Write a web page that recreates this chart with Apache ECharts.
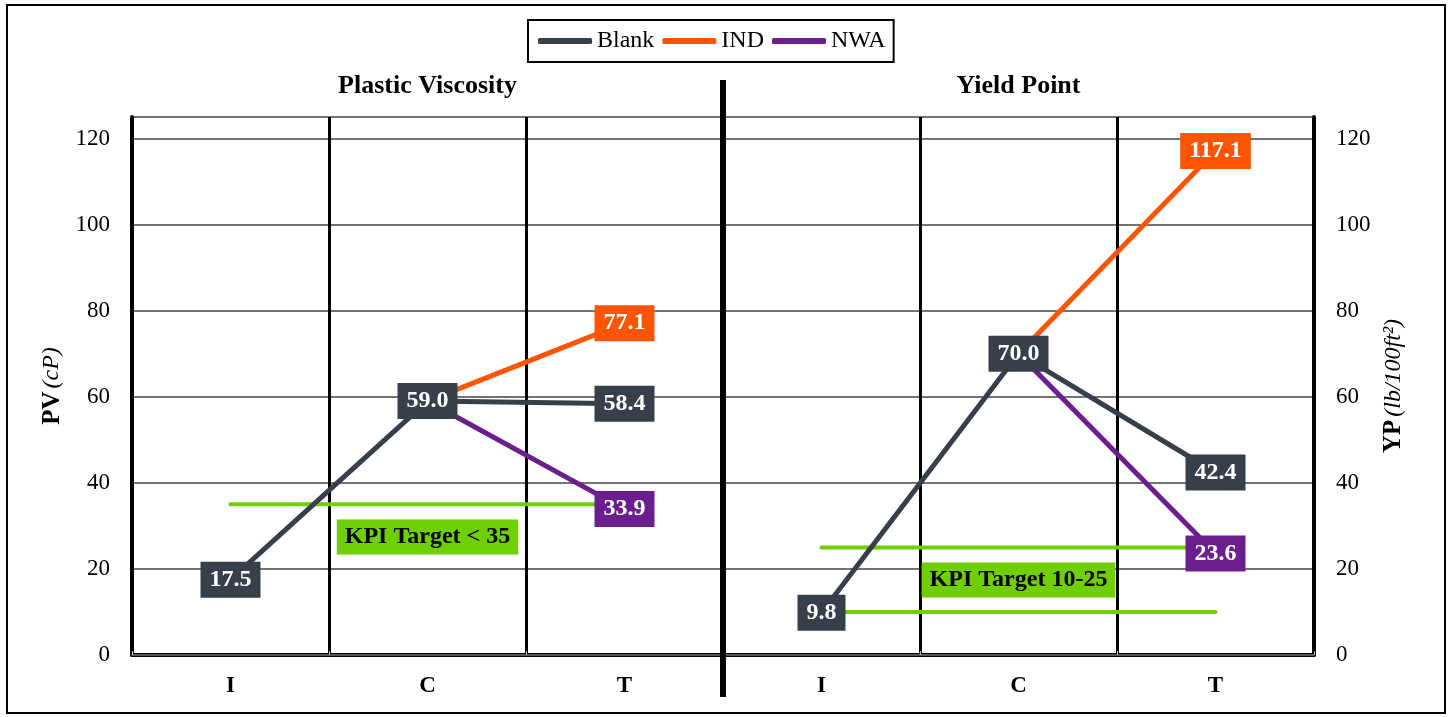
<!DOCTYPE html>
<html>
<head>
<meta charset="utf-8">
<script src="https://cdn.jsdelivr.net/npm/echarts@6/dist/echarts.min.js"></script>
<style>
  html, body { margin: 0; padding: 0; background: #fff; }
  #chart { width: 1452px; height: 717px; }
</style>
</head>
<body>
<div id="chart"></div>
<script>
// Test stages for each property panel (left: PV, right: YP)
const categories = ['I', 'C', 'T', 'I', 'C', 'T'];
const panelTitles = ['Plastic Viscosity', 'Yield Point'];

// Blank fluid: left panel PV, right panel YP
const blankPV = [17.5, 59.0, 58.4, '-', '-', '-'];
const blankYP = ['-', '-', '-', 9.8, 70.0, 42.4];
// Additive fluids branch from stage C
const indValues = ['-', 59.0, 77.1, '-', 70.0, 117.1];
const nwaValues = ['-', 59.0, 33.9, '-', 70.0, 23.6];

// KPI targets
const kpiPV = [35, 35, 35, '-', '-', '-'];
const kpiYPHigh = ['-', '-', '-', 25, 25, 25];
const kpiYPLow = ['-', '-', '-', 10, 10, 10];
const kpiTexts = ['KPI Target < 35', 'KPI Target 10-25'];

const COLORS = { blank: '#37404a', ind: '#ff5500', nwa: '#6b1f8f', kpi: '#6fcf00' };
const SERIF = "'Liberation Serif', 'Times New Roman', serif";

// wrap values, giving a value box to the chosen points
function labelled(values, idx, bg) {
  return values.map((v, i) => {
    if (v === '-' || (idx && idx.indexOf(i) < 0)) return v;
    return {
      value: v,
      label: {
        show: true, position: 'inside',
        formatter: p => Number(p.value).toFixed(1),
        color: '#fff', fontFamily: SERIF, fontWeight: 'bold', fontSize: 24,
        backgroundColor: bg, padding: [7, 9, 5, 9]
      }
    };
  });
}

function lineSeries(name, data, color, z) {
  return {
    name, type: 'line', data, z,
    symbol: 'rect', symbolSize: 1, showSymbol: true,
    itemStyle: { color },
    lineStyle: { color, width: 5 },
    emphasis: { disabled: true },
    animation: false
  };
}

function kpiSeries(data, mark) {
  const s = {
    name: 'KPI', type: 'line', data, z: 1, silent: true,
    symbol: 'none',
    lineStyle: { color: COLORS.kpi, width: 4, cap: 'round' },
    itemStyle: { color: COLORS.kpi },
    animation: false
  };
  if (mark) {
    s.markPoint = {
      symbol: 'rect', symbolSize: 0, silent: true, animation: false,
      data: [{ coord: mark.coord }],
      label: {
        show: true, position: 'inside', formatter: mark.text,
        color: '#000', fontFamily: SERIF, fontWeight: 'bold', fontSize: 24,
        backgroundColor: COLORS.kpi, padding: [7, 8, 4, 8]
      }
    };
  }
  return s;
}

const chart = echarts.init(document.getElementById('chart'), null, { renderer: 'canvas' });

const yAxisBase = {
  type: 'value', min: 0, max: 125, interval: 20,
  axisLabel: { color: '#000', fontFamily: SERIF, fontSize: 23, margin: 22, showMaxLabel: false },
  axisTick: { show: false },
  nameLocation: 'middle', nameRotate: 90
};

const nameRich = {
  b: { fontFamily: SERIF, fontWeight: 'bold', fontSize: 25, color: '#000' },
  i: { fontFamily: SERIF, fontStyle: 'italic', fontSize: 24, color: '#000' }
};

chart.setOption({
  backgroundColor: '#fff',
  textStyle: { fontFamily: SERIF },
  legend: {
    data: ['Blank', 'IND', 'NWA'],
    top: 20, left: 528,
    icon: 'roundRect', itemWidth: 54, itemHeight: 6, itemGap: 8,
    borderColor: '#000', borderWidth: 2, padding: [9, 8, 9, 10],
    textStyle: { color: '#000', fontFamily: SERIF, fontSize: 24 },
    selectedMode: false
  },
  grid: { left: 132, right: 138, top: 117, bottom: 62 },
  xAxis: [
    {
      type: 'category', data: categories, position: 'bottom',
      axisLine: { lineStyle: { color: '#000', width: 4 } },
      axisTick: { show: false },
      axisLabel: { color: '#000', fontFamily: SERIF, fontWeight: 'bold', fontSize: 23, margin: 20 },
      splitLine: { show: true, interval: 0, lineStyle: { color: '#000', width: 3 } }
    },
    {
      type: 'category', data: categories, position: 'top',
      axisLine: { lineStyle: { color: '#555', width: 2 } },
      axisTick: { show: true, interval: 0, length: 4, lineStyle: { color: '#bbb', width: 1 } },
      axisLabel: { show: false },
      splitLine: { show: false }
    }
  ],
  yAxis: [
    Object.assign({}, yAxisBase, {
      position: 'left',
      name: '{b|PV} {i|(cP)}', nameGap: 64,
      nameTextStyle: { rich: nameRich },
      axisLine: { show: true, lineStyle: { color: '#000', width: 4 } },
      splitLine: { show: true, lineStyle: { color: '#444', width: 1.5 } }
    }),
    Object.assign({}, yAxisBase, {
      position: 'right',
      name: '{b|YP} {i|(lb/100ft²)}', nameGap: 66,
      nameTextStyle: { rich: nameRich },
      axisLine: { show: true, lineStyle: { color: '#000', width: 4 } },
      splitLine: { show: false }
    })
  ],
  series: [
    kpiSeries(kpiPV, { coord: [1, 27.4], text: kpiTexts[0] }),
    kpiSeries(kpiYPHigh, { coord: [4, 17.4], text: kpiTexts[1] }),
    kpiSeries(kpiYPLow, null),
    lineSeries('IND', labelled(indValues, [2, 5], COLORS.ind), COLORS.ind, 3),
    lineSeries('NWA', labelled(nwaValues, [2, 5], COLORS.nwa), COLORS.nwa, 3),
    lineSeries('Blank', labelled(blankPV, null, COLORS.blank), COLORS.blank, 4),
    lineSeries('Blank', labelled(blankYP, null, COLORS.blank), COLORS.blank, 4)
  ]
});

// Panel titles, the panel separator and the outer frame, placed from the axes
function drawDecor() {
  const xOf = i => chart.convertToPixel({ xAxisIndex: 0 }, i);
  const yTop = chart.convertToPixel({ yAxisIndex: 0 }, 125);
  const yZero = chart.convertToPixel({ yAxisIndex: 0 }, 0);
  const sepX = (xOf(2) + xOf(3)) / 2;
  const w = chart.getWidth(), h = chart.getHeight();
  const titleFont = "bold 26px 'Liberation Serif', 'Times New Roman', serif";
  chart.setOption({
    graphic: [
      {
        type: 'rect', silent: true, z: 100,
        shape: { x: 7, y: 5, width: w - 14, height: h - 9 },
        style: { fill: 'none', stroke: '#000', lineWidth: 2 }
      },
      {
        type: 'line', silent: true, z: 100,
        shape: { x1: sepX, y1: yTop - 37, x2: sepX, y2: yZero + 42 },
        style: { stroke: '#000', lineWidth: 6 }
      },
      {
        type: 'text', silent: true, z: 100,
        x: xOf(1), y: yTop - 31,
        style: { text: panelTitles[0], fill: '#000', font: titleFont, align: 'center', verticalAlign: 'middle' }
      },
      {
        type: 'text', silent: true, z: 100,
        x: xOf(4), y: yTop - 31,
        style: { text: panelTitles[1], fill: '#000', font: titleFont, align: 'center', verticalAlign: 'middle' }
      }
    ]
  });
}
drawDecor();
</script>
</body>
</html>
